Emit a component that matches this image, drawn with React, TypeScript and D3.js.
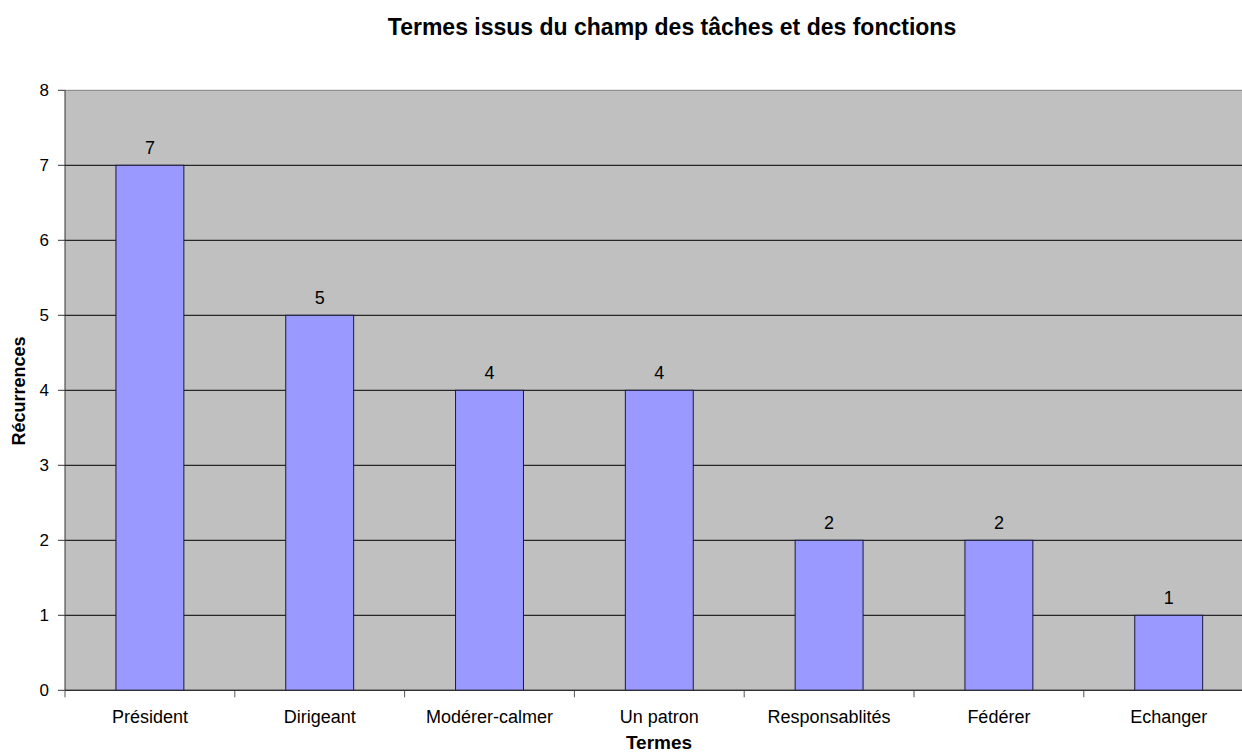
import React from "react";
import * as d3 from "d3";

const categories = ["Président", "Dirigeant", "Modérer-calmer", "Un patron", "Responsablités", "Fédérer", "Echanger"];
const values = [7, 5, 4, 4, 2, 2, 1];
const yTicks = [0, 1, 2, 3, 4, 5, 6, 7, 8];
const title = "Termes issus du champ des tâches et des fonctions";
const xTitle = "Termes";
const yTitle = "Récurrences";

export default function App() {
  const W = 1242, H = 752;
  const left = 65, top = 90.3, bottom = 690.3;
  const bandW = 169.8;
  const right = left + bandW * categories.length;
  const x = d3.scaleBand<string>().domain(categories).range([left, right]).paddingInner(0.6).paddingOuter(0.3);
  const xb = d3.scaleBand<string>().domain(categories).range([left, right]);
  const y = d3.scaleLinear().domain([0, 8]).range([bottom, top]);
  const font = "Arial, 'Liberation Sans', sans-serif";
  return (
    <svg width={W} height={H} style={{ position: "absolute", left: 0, top: 0, background: "#fff" }} fontFamily={font}>
      <rect x={left} y={top} width={right - left} height={bottom - top} fill="#c0c0c0" />
      {yTicks.map((t) => (
        <g key={t}>
          <line x1={left} x2={right} y1={y(t)} y2={y(t)} stroke={t === 8 ? "#808080" : "#000"} strokeWidth={1} />
          <line x1={58} x2={left} y1={y(t)} y2={y(t)} stroke="#333" strokeWidth={1} />
          <text x={49} y={y(t)} dy="0.35em" textAnchor="end" fontSize={17} fill="#000">{t}</text>
        </g>
      ))}
      {categories.map((c, i) => (
        <g key={c}>
          <rect x={x(c)!} y={y(values[i])} width={x.bandwidth()} height={bottom - y(values[i])} fill="#9999ff" stroke="#1a1a3a" strokeWidth={1} />
          <text x={x(c)! + x.bandwidth() / 2} y={y(values[i]) - 11} textAnchor="middle" fontSize={18} fill="#000">{values[i]}</text>
          <text x={xb(c)! + xb.bandwidth() / 2} y={723} textAnchor="middle" fontSize={18} fill="#000">{c}</text>
        </g>
      ))}
      {d3.range(categories.length + 1).map((i) => (
        <line key={i} x1={left + i * bandW} x2={left + i * bandW} y1={bottom} y2={bottom + 7} stroke="#555" />
      ))}
      <line x1={left} x2={left} y1={top} y2={bottom} stroke="#333" />
      <line x1={left} x2={right} y1={bottom} y2={bottom} stroke="#333" />
      <text x={672} y={35} textAnchor="middle" fontSize={23} fontWeight="bold" fill="#000">{title}</text>
      <text x={659} y={749} textAnchor="middle" fontSize={19} fontWeight="bold" fill="#000">{xTitle}</text>
      <text transform={`translate(25, 391) rotate(-90)`} textAnchor="middle" fontSize={18} fontWeight="bold" fill="#000">{yTitle}</text>
    </svg>
  );
}
